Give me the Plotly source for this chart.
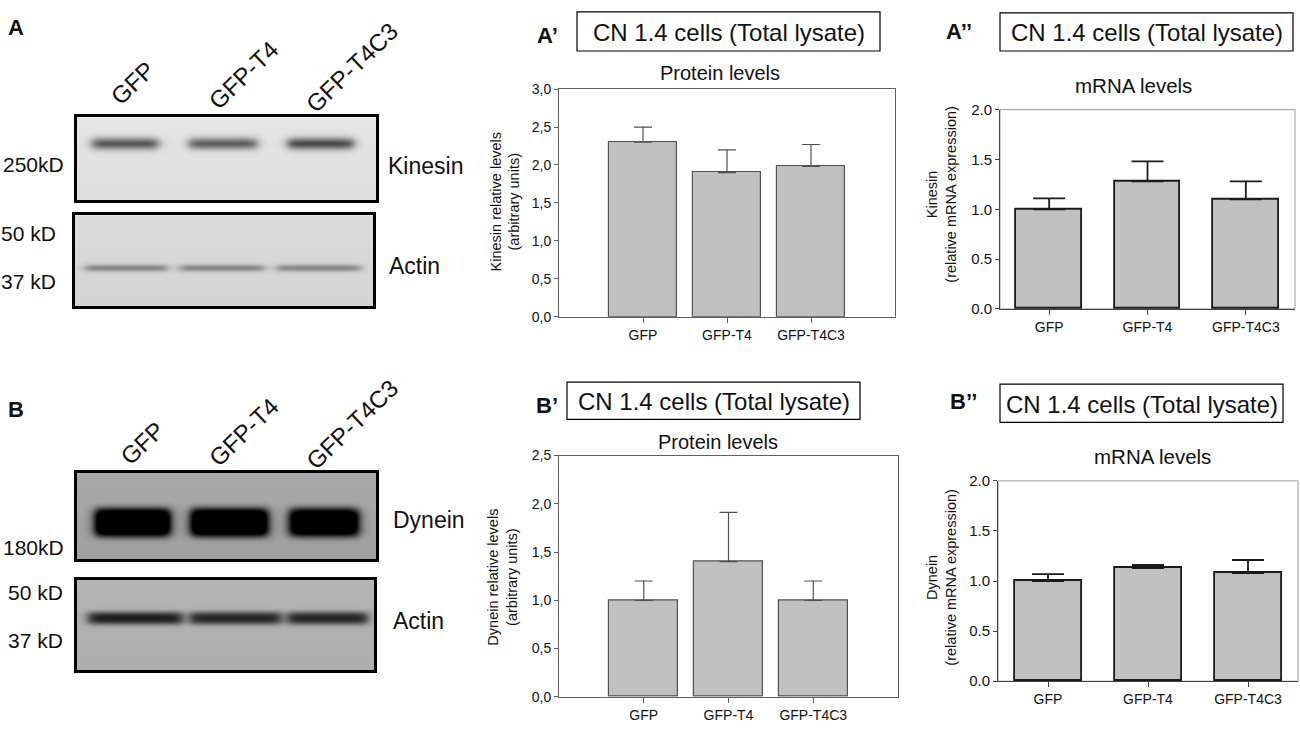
import numpy as np
import plotly.graph_objects as go

W_FIG, H_FIG = 1300, 740
FONT = "Arial, Liberation Sans, Helvetica, sans-serif"

# groups shown on every panel
groups = ["GFP", "GFP-T4", "GFP-T4C3"]

# A' / A'' kinesin
kinesin_protein = [2.30, 1.90, 1.98]
kinesin_protein_err = [0.20, 0.30, 0.29]
kinesin_mrna = [1.00, 1.28, 1.10]
kinesin_mrna_err = [0.11, 0.20, 0.18]

# B' / B'' dynein
dynein_protein = [1.00, 1.40, 1.00]
dynein_protein_err = [0.20, 0.51, 0.20]
dynein_mrna = [1.00, 1.13, 1.08]
dynein_mrna_err = [0.07, 0.03, 0.13]

# tick labels
protein_ticks_a = [0, 0.5, 1.0, 1.5, 2.0, 2.5, 3.0]
protein_ticks_b = [0, 0.5, 1.0, 1.5, 2.0, 2.5]
mrna_ticks = [0, 0.5, 1.0, 1.5, 2.0]

# western blot band darkness per lane (0 = white, 1 = black)
kinesin_band = [0.55, 0.52, 0.60]
actin_a_band = [0.33, 0.33, 0.32]
dynein_band = [1.00, 1.00, 0.95]
actin_b_band = [0.58, 0.55, 0.55]


def px_x(v):
    return v / W_FIG


def px_y(v):
    return 1 - v / H_FIG


def comma(v):
    return f"{v:.1f}".replace(".", ",")


fig = go.Figure()
annotations = []
shapes = []


def add_text(text, x, y, size, bold=False, angle=0, xanchor="center", color="#111"):
    if bold:
        text = "<b>" + text + "</b>"
    annotations.append(dict(text=text, x=px_x(x), y=px_y(y), xref="paper", yref="paper",
                            showarrow=False, xanchor=xanchor, yanchor="middle",
                            textangle=angle, font=dict(family=FONT, size=size, color=color)))


def bar_panel(n, values, errs, box, yrange, ticks, protein):
    # box = (left, top, right, bottom) in pixels
    left, top, right, bottom = box
    edge = "#505050" if protein else "#1a1a1a"
    fig.add_trace(go.Bar(
        x=groups, y=values, xaxis=f"x{n}", yaxis=f"y{n}",
        width=0.81 if protein else 0.67,
        marker=dict(color="#c0c0c0", line=dict(color=edge, width=1.2 if protein else 1.8)),
        error_y=dict(type="data", symmetric=False, array=errs, arrayminus=[0, 0, 0],
                     color=edge, thickness=1.2 if protein else 1.8,
                     width=9 if protein else 16),
        showlegend=False, hoverinfo="skip"))
    axcol = "#606060" if protein else "#404040"
    xsize = 14
    ysize = 14 if protein else 15
    xr = [-1, 3] if protein else [-0.5, 2.5]
    fig.layout[f"xaxis{n}"] = dict(
        domain=[px_x(left), px_x(right)], anchor=f"y{n}", range=xr,
        showline=True, linecolor=axcol, linewidth=1, mirror=protein,
        ticks="outside", ticklen=5, tickcolor=axcol, showgrid=False, zeroline=False,
        tickfont=dict(family=FONT, size=xsize, color="#111"), fixedrange=True)
    fig.layout[f"yaxis{n}"] = dict(
        domain=[px_y(bottom), px_y(top)], anchor=f"x{n}", range=yrange,
        showline=True, linecolor=axcol, linewidth=1, mirror=protein,
        ticks="outside", ticklen=4, tickcolor=axcol, showgrid=False, zeroline=False,
        tickvals=ticks, ticktext=[comma(t) if protein else f"{t:.1f}" for t in ticks],
        tickfont=dict(family=FONT, size=ysize, color="#111"), fixedrange=True)
    if not protein:
        # light grey frame on top/right like the original
        shapes.append(dict(type="rect", xref=f"x{n} domain", yref=f"y{n} domain",
                           x0=0, x1=1, y0=0, y1=1, line=dict(color="#9a9a9a", width=1),
                           layer="below"))


bar_panel(1, kinesin_protein, kinesin_protein_err, (559, 82, 895, 315), [0, 3], protein_ticks_a, True)
bar_panel(2, kinesin_mrna, kinesin_mrna_err, (1000, 103, 1295, 307), [0, 2], mrna_ticks, False)
bar_panel(3, dynein_protein, dynein_protein_err, (559, 457, 898, 704), [0, 2.5], protein_ticks_b, True)
bar_panel(4, dynein_mrna, dynein_mrna_err, (998, 483, 1298, 688), [0, 2], mrna_ticks, False)


def blot(n, box, lanes, band, band_y, band_h, bg, power=2):
    # draw a blot strip as a grey heatmap, lanes given as pixel spans inside the box
    left, top, right, bottom = box
    w, h = right - left, bottom - top
    xs = np.linspace(0, w, int(w))
    ys = np.linspace(0, h, int(h))
    X, Y = np.meshgrid(xs, ys)
    z = np.full(X.shape, bg) + 0.03 * (Y / h)
    for (a, b), k in zip(lanes, band):
        sx = 1 / (1 + np.exp(-(X - a) / 3)) * 1 / (1 + np.exp((X - b) / 3))
        gy = np.exp(-np.abs((Y - band_y) / band_h) ** power)
        z = z + k * sx * gy
    z = np.clip(z, 0, 1)
    fig.add_trace(go.Heatmap(z=z, x=xs, y=ys, xaxis=f"x{n}", yaxis=f"y{n}",
                             colorscale=[[0, "#ffffff"], [1, "#000000"]], zmin=0, zmax=1,
                             showscale=False, zsmooth="best", hoverinfo="skip"))
    fig.layout[f"xaxis{n}"] = dict(domain=[px_x(left), px_x(right)], anchor=f"y{n}",
                                   range=[0, w], showline=True, linecolor="black", linewidth=2.5,
                                   mirror=True, showticklabels=False, ticks="", showgrid=False,
                                   zeroline=False, fixedrange=True)
    fig.layout[f"yaxis{n}"] = dict(domain=[px_y(bottom), px_y(top)], anchor=f"x{n}",
                                   range=[h, 0], showline=True, linecolor="black", linewidth=2.5,
                                   mirror=True, showticklabels=False, ticks="", showgrid=False,
                                   zeroline=False, fixedrange=True)


blot(5, (77, 111, 376, 196), [(15, 81), (112, 179), (210, 276)], kinesin_band, 26, 6, 0.10)
blot(6, (75, 211, 373, 304), [(10, 92), (105, 188), (201, 285)], actin_a_band, 54, 3.5, 0.14)
blot(7, (77, 475, 376, 563), [(18, 93), (114, 190), (212, 281)], dynein_band, 50, 15, 0.34, power=4)
blot(8, (77, 584, 374, 677), [(11, 105), (113, 203), (210, 290)], actin_b_band, 39, 7, 0.29, power=3)

# blot labels
for label, x, y in zip(groups, [132, 243, 352], [76, 68, 60]):
    add_text(label, x, y, 24, angle=-44)
for label, x, y in zip(groups, [142, 243, 352], [445, 433, 425]):
    add_text(label, x, y, 24, angle=-44)
add_text("250kD", 33, 159, 21)
add_text("50 kD", 28, 230, 21)
add_text("37 kD", 28, 279, 21)
add_text("Kinesin", 386, 161, 23, xanchor="left")
add_text("Actin", 387, 263, 23, xanchor="left")
add_text("180kD", 33, 551, 21)
add_text("50 kD", 35, 597, 21)
add_text("37 kD", 35, 646, 21)
add_text("Dynein", 391, 523, 23, xanchor="left")
add_text("Actin", 391, 626, 23, xanchor="left")

# panel letters
add_text("A", 16, 19, 22, bold=True)
add_text("B", 16, 410, 22, bold=True)
add_text("A’", 547, 27, 22, bold=True)
add_text("B’", 547, 406, 22, bold=True)
add_text("A’’", 959, 23, 22, bold=True)
add_text("B’’", 963, 402, 22, bold=True)

# header boxes
for (l, t, r, b) in [(577, 3, 880, 43), (1000, 4, 1293, 43), (567, 382, 860, 420), (1000, 384, 1283, 423)]:
    shapes.append(dict(type="rect", xref="paper", yref="paper", x0=px_x(l), x1=px_x(r),
                       y0=px_y(b), y1=px_y(t), line=dict(color="black", width=1.2)))
    add_text("CN 1.4 cells (Total lysate)", (l + r) / 2, (t + b) / 2 + 1, 24)

# chart titles
add_text("Protein levels", 720, 65, 20)
add_text("mRNA levels", 1133, 78, 20.5)
add_text("Protein levels", 718, 443, 20)
add_text("mRNA levels", 1152, 458, 20.5)

# y axis titles
add_text("Kinesin relative levels<br>(arbitrary units)", 505, 198, 14.5, angle=-90)
add_text("Dynein relative levels<br>(arbitrary units)", 503, 582, 14.5, angle=-90)
add_text("Kinesin<br>(relative mRNA expression)", 942, 190, 14.5, angle=-90)
add_text("Dynein<br>(relative mRNA expression)", 942, 582, 14.5, angle=-90)

fig.update_layout(width=W_FIG, height=H_FIG, margin=dict(l=0, r=0, t=0, b=0),
                  paper_bgcolor="white", plot_bgcolor="white", bargap=0,
                  annotations=annotations, shapes=shapes,
                  font=dict(family=FONT, color="#111"))

# the page body has a default 8px margin, remove it so the figure sits at 0,0
fig.write_html("out.html", config={"displayModeBar": False},
               post_script="document.body.style.margin = '0px';")
